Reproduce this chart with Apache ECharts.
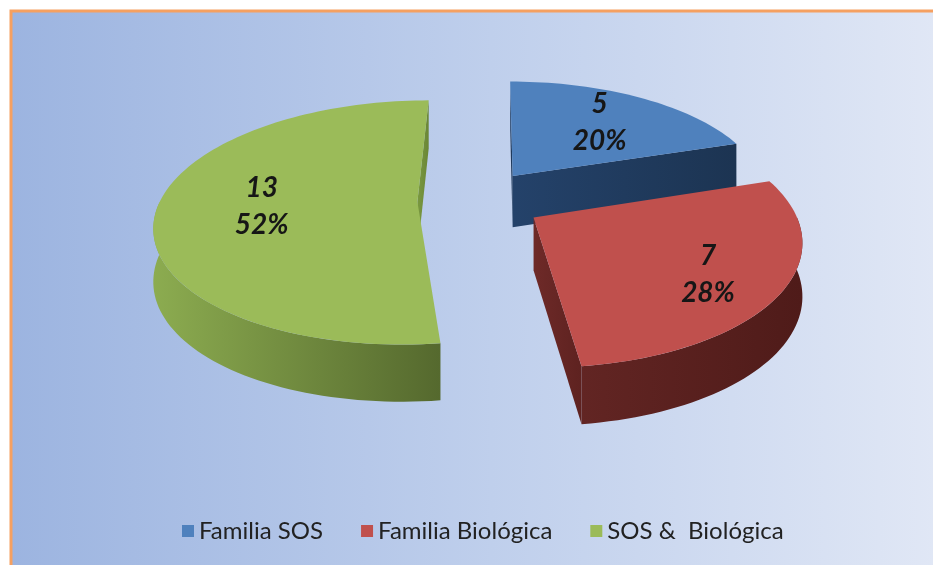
<!DOCTYPE html>
<html>
<head>
<meta charset="utf-8">
<script src="https://cdn.jsdelivr.net/npm/echarts@6/dist/echarts.min.js"></script>
<style>
html, body { margin: 0; background: #fff; }
#pieChart { width: 933px; height: 565px; }
</style>
</head>
<body>
<div id="pieChart"></div>
<script>
// datos
const categories = ['Familia SOS', 'Familia Biológica', 'SOS &  Biológica'];
const values = [5, 7, 13];

// colores de cada porción: cara superior, pared radial, pared exterior (izq -> der)
const topColors = ['#4f81bd', '#c0504d', '#9bbb59'];
const radialColors = [['#24426a', '#1c3452'], ['#6e2a28', '#5e2220'], ['#7a9940', '#6a8636']];
const outerColors = [['#27466f', '#1d3655'], ['#622523', '#4f1b19'], ['#8cac50', '#55692e']];

// geometría del pastel 3D (en px)
const cx0 = 474, cy0 = 200;   // centro sin separar
const camX = 495;             // punto de fuga horizontal
const rx = 257, ry = 118;
const persp = 0.17;
const depth = 52;
const explode = [0.26, 0.27, 0.22];
const labelRadius = [0.66, 0.72, 0.6];

const total = values.reduce((a, b) => a + b, 0);
const starts = [];
values.reduce((acc, v) => { starts.push(acc); return acc + v / total * Math.PI * 2; }, 0);

// (U, V) en el plano del pastel, V hacia atrás; devuelve [x, y, escala]
const project = (U, V) => {
    const s = 1 / (1 + persp * V);
    return [camX + (cx0 + rx * U - camX) * s, cy0 - ry * V * s, s];
};

const hGrad = (c) => new echarts.graphic.LinearGradient(0, 0, 1, 0, [
    { offset: 0, color: c[0] }, { offset: 1, color: c[1] }
]);

const renderSlice = (i) => (params, api) => {
    const a0 = starts[i];
    const a1 = a0 + api.value(0) / total * Math.PI * 2;
    const mid = (a0 + a1) / 2;
    const u0 = explode[i] * Math.sin(mid), v0 = explode[i] * Math.cos(mid);
    // ángulo 0 = atrás, sentido horario
    const pt = (phi, r, down) => {
        const p = project(u0 + Math.sin(phi) * r, v0 + Math.cos(phi) * r);
        return [p[0], p[1] + (down ? depth * Math.sqrt(p[2]) : 0)];
    };
    const arc = (from, to, down) => {
        const pts = [];
        const n = Math.max(2, Math.ceil(Math.abs(to - from) / 0.03));
        for (let k = 0; k <= n; k++) pts.push(pt(from + (to - from) * k / n, 1, down));
        return pts;
    };
    const c = pt(0, 0), cb = pt(0, 0, true);
    const children = [];
    // paredes radiales visibles
    [[a0, a0 - Math.PI / 2], [a1, a1 + Math.PI / 2]].forEach(([a, nrm]) => {
        if (Math.cos(nrm) < 0.02) {
            children.push({
                type: 'polygon',
                shape: { points: [c, pt(a, 1), pt(a, 1, true), cb] },
                style: { fill: hGrad(radialColors[i]) }
            });
        }
    });
    // pared exterior (sólo la parte delantera)
    const f0 = Math.max(a0, Math.PI / 2), f1 = Math.min(a1, Math.PI * 1.5);
    if (f1 > f0) {
        children.push({
            type: 'polygon',
            shape: { points: arc(f0, f1, false).concat(arc(f1, f0, true)) },
            style: { fill: hGrad(outerColors[i]) }
        });
    }
    // cara superior
    children.push({
        type: 'polygon',
        shape: { points: [c].concat(arc(a0, a1, false)) },
        style: { fill: topColors[i] }
    });
    // etiqueta
    const lp = pt(mid, labelRadius[i]);
    const pct = Math.round(api.value(0) / total * 100);
    children.push({
        type: 'text',
        z2: 10,
        style: {
            x: lp[0], y: lp[1] + (i === 1 ? 6 : 0),
            text: api.value(0) + '\n' + pct + '%',
            font: 'italic bold 28px Lato',
            lineHeight: 37,
            fill: '#161616',
            align: 'center',
            verticalAlign: 'middle'
        }
    });
    return { type: 'group', children };
};

const chart = echarts.init(document.getElementById('pieChart'));
chart.setOption({
    animation: false,
    backgroundColor: '#fff',
    graphic: [{
        type: 'rect',
        z: -10,
        shape: { x: 11, y: 11, width: 960, height: 600 },
        style: {
            fill: new echarts.graphic.LinearGradient(0, 0, 1, 0, [
                { offset: 0, color: '#9cb4e0' },
                { offset: 0.5, color: '#bfcfec' },
                { offset: 1, color: '#e3e9f6' }
            ]),
            stroke: '#f5a061',
            lineWidth: 3
        }
    }],
    legend: {
        top: 514,
        left: 177,
        icon: 'rect',
        itemWidth: 12,
        itemHeight: 12,
        itemGap: 38,
        selectedMode: false,
        textStyle: { fontFamily: 'Lato', fontSize: 24, color: '#222' },
        data: categories
    },
    series: categories.map((name, i) => ({
        type: 'custom',
        name: name,
        coordinateSystem: 'none',
        itemStyle: { color: topColors[i] },
        renderItem: renderSlice(i),
        data: [[values[i]]]
    }))
});
</script>
</body>
</html>
